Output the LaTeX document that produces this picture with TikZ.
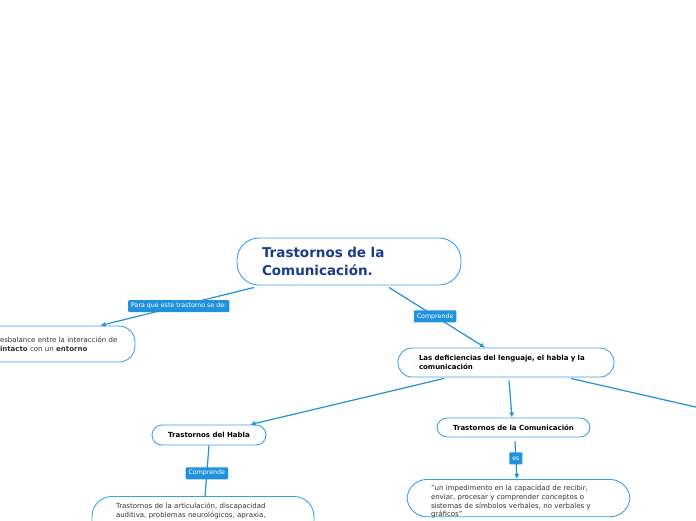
\documentclass[tikz,border=0pt]{standalone}
\usepackage{fontspec}
\setmainfont{DejaVu Sans}
\usepackage{tikz}
\usetikzlibrary{arrows.meta}
\definecolor{edge}{HTML}{2092DC}
\definecolor{rim}{HTML}{3AA3E6}
\definecolor{navy}{HTML}{1B3B8B}
\definecolor{ink}{HTML}{333333}
\tikzset{topic/.style={draw=rim,fill=white,line width=0.9pt,rounded corners=10pt,inner xsep=24pt,align=left,font=\fontsize{7}{9}\selectfont,text=ink},link/.style={draw=edge,line width=1.2pt},arr/.style={link,-{Latex[length=5pt,width=5pt]}},lab/.style={fill=edge,text=white,font=\fontsize{6.3}{7}\selectfont,rounded corners=1pt,inner xsep=3pt,inner ysep=1pt,minimum height=12pt}}

\begin{document}
\begin{tikzpicture}[x=1pt,y=-1pt]
\useasboundingbox (0,0) rectangle (696,520);
\node[topic,text width=174pt,inner xsep=25pt,minimum height=47pt,rounded corners=22pt,font=\bfseries\fontsize{13.5}{18}\selectfont,text=navy] (title) at (349,261.5) {Trastornos de la\\Comunicación.};
\node[topic,text width=118pt,inner xsep=17pt,minimum height=36pt,rounded corners=16pt] (desb) at (59,344) {esbalance entre la interacción de\\\textbf{intacto} con un \textbf{entorno}};
\node[topic,text width=174pt,inner xsep=21pt,minimum height=29pt,rounded corners=14pt,font=\bfseries\fontsize{7}{9}\selectfont,text=black] (defic) at (506,362.5) {Las deficiencias del lenguaje, el habla y la\\comunicación};
\node[topic,minimum width=114pt,minimum height=20pt,inner xsep=2pt,align=center,font=\bfseries\fontsize{7}{9}\selectfont,text=black] (habla) at (209,435) {Trastornos del Habla};
\node[topic,minimum width=153pt,minimum height=19pt,inner xsep=2pt,align=center,font=\bfseries\fontsize{7}{9}\selectfont,text=black] (comunic) at (513.5,427.5) {Trastornos de la Comunicación};
\node[topic,anchor=north,text width=174pt,inner ysep=6pt,text depth=30pt,rounded corners=20pt] (artic) at (203,496) {Trastornos de la articulación, discapacidad\\auditiva, problemas neurológicos, apraxia,};
\node[topic,anchor=north,text width=175pt,inner ysep=6pt,text depth=20pt,rounded corners=20pt,font=\fontsize{7}{8.7}\selectfont] (quote) at (518.5,479) {"un impedimento en la capacidad de recibir,\\enviar, procesar y comprender conceptos o\\sistemas de símbolos verbales, no verbales y\\gráficos"};
\coordinate (fuera) at (740,417.2);
\draw[arr] ([xshift=-95pt,yshift=-2pt]title.south) -- node[lab,pos=0.49] {Para que este trastorno se de:} ([xshift=-35pt]desb.north east);
\draw[arr] ([xshift=40pt,yshift=-2pt]title.south) -- node[lab,pos=0.48] {Comprende} ([xshift=-21pt]defic.north);
\draw[arr] ([xshift=-62pt,yshift=-1pt]defic.south) -- ([xshift=-16pt]habla.north east);
\draw[arr] ([xshift=3pt,yshift=-3pt]defic.south) -- ([xshift=-1.5pt]comunic.north);
\draw[arr] ([xshift=65pt,yshift=-1pt]defic.south) -- (fuera);
\draw[link] (habla.south) -- node[lab,pos=0.55] {Comprende} ([xshift=2pt]artic.north);
\draw[arr] ([xshift=1.5pt,yshift=-4pt]comunic.south) -- node[lab,pos=0.45] {es} ([xshift=-1.5pt]quote.north);
\end{tikzpicture}
\end{document}
